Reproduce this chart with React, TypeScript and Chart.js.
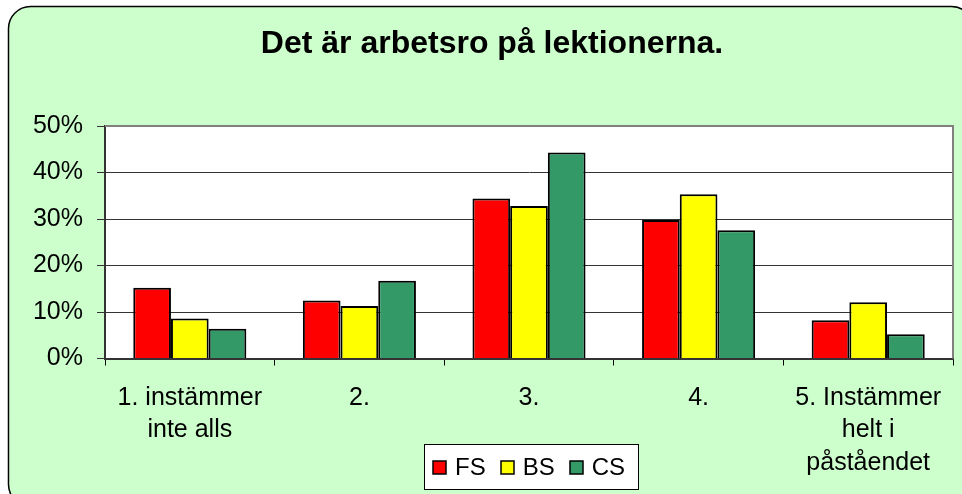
import React, { useEffect, useRef } from 'react';
import { Chart, registerables } from 'chart.js';

Chart.register(...registerables);

const chartTitle = 'Det är arbetsro på lektionerna.';
const categories: string[][] = [
  ['1. instämmer', 'inte alls'],
  ['2.'],
  ['3.'],
  ['4.'],
  ['5. Instämmer', 'helt i', 'påståendet'],
];
const seriesNames = ['FS', 'BS', 'CS'];
const seriesColors = ['#FF0000', '#FFFF00', '#339966'];
const fsValues = [15.2, 12.5, 34.4, 29.8, 8.2];
const bsValues = [8.6, 11.3, 32.8, 35.3, 12.1];
const csValues = [6.4, 16.7, 44.3, 27.6, 5.2];
const yMin = 0;
const yMax = 50;
const yStep = 10;

const FONT = "'Liberation Sans', Arial, sans-serif";

const bgPlugin = {
  id: 'bgPlugin',
  beforeDraw(chart: any) {
    const { ctx, chartArea: ca, width, height } = chart;
    ctx.save();
    ctx.fillStyle = '#ffffff';
    ctx.fillRect(0, 0, width, height);
    ctx.beginPath();
    const x = 8.5, y = 6.5, w = 965, h = 500, r = 22;
    ctx.moveTo(x + r, y);
    ctx.arcTo(x + w, y, x + w, y + h, r);
    ctx.arcTo(x + w, y + h, x, y + h, r);
    ctx.arcTo(x, y + h, x, y, r);
    ctx.arcTo(x, y, x + w, y, r);
    ctx.closePath();
    ctx.fillStyle = '#CCFFCC';
    ctx.fill();
    ctx.strokeStyle = '#000000';
    ctx.lineWidth = 1.5;
    ctx.stroke();
    ctx.fillStyle = '#ffffff';
    ctx.fillRect(ca.left, ca.top, ca.right - ca.left, ca.bottom - ca.top);
    ctx.restore();
  },
  afterDraw(chart: any) {
    const { ctx, chartArea: ca } = chart;
    ctx.save();
    // plot area frame (top & right)
    ctx.strokeStyle = '#808080';
    ctx.lineWidth = 2;
    ctx.beginPath();
    ctx.moveTo(ca.left, ca.top);
    ctx.lineTo(ca.right, ca.top);
    ctx.lineTo(ca.right, ca.bottom);
    ctx.stroke();

    // legend
    const dsets = chart.data.datasets;
    ctx.font = `24px ${FONT}`;
    const box = 13, gapBoxText = 9, gapItems = 15;
    const widths = dsets.map((d: any) => box + gapBoxText + ctx.measureText(d.label).width);
    const total = widths.reduce((a: number, b: number) => a + b, 0) + gapItems * (dsets.length - 1);
    const cx = (ca.left + ca.right) / 2;
    let xPos = cx - total / 2;
    const cy = 467.5;
    const frameL = Math.round(xPos - 9) + 0.5;
    const frameR = Math.round(xPos + total + 13) + 0.5;
    ctx.fillStyle = '#FFFFFF';
    ctx.fillRect(frameL, 444.5, frameR - frameL, 45);
    ctx.strokeStyle = '#000000';
    ctx.lineWidth = 1;
    ctx.strokeRect(frameL, 444.5, frameR - frameL, 45);
    dsets.forEach((d: any, i: number) => {
      ctx.fillStyle = d.backgroundColor;
      ctx.fillRect(Math.round(xPos), Math.round(cy - box / 2), box, box);
      ctx.strokeStyle = '#000000';
      ctx.lineWidth = 1.5;
      ctx.strokeRect(Math.round(xPos), Math.round(cy - box / 2), box, box);
      ctx.fillStyle = '#000000';
      ctx.textAlign = 'left';
      ctx.textBaseline = 'middle';
      ctx.fillText(d.label, xPos + box + gapBoxText, cy + 1);
      xPos += widths[i] + gapItems;
    });
    ctx.restore();
  },
};

export default function App() {
  const canvasRef = useRef<HTMLCanvasElement | null>(null);

  useEffect(() => {
    if (!canvasRef.current) return;
    const chart = new Chart(canvasRef.current, {
      type: 'bar',
      data: {
        labels: categories,
        datasets: [
          { label: seriesNames[0], data: fsValues, backgroundColor: seriesColors[0], borderColor: '#000000', borderWidth: 2 },
          { label: seriesNames[1], data: bsValues, backgroundColor: seriesColors[1], borderColor: '#000000', borderWidth: 2 },
          { label: seriesNames[2], data: csValues, backgroundColor: seriesColors[2], borderColor: '#000000', borderWidth: 2 },
        ],
      },
      options: {
        responsive: false,
        animation: false,
        devicePixelRatio: 1,
        datasets: { bar: { categoryPercentage: 0.6667, barPercentage: 1 } },
        layout: { padding: { left: 31, right: 9, top: 0, bottom: 0 } },
        plugins: {
          title: {
            display: true,
            text: chartTitle,
            color: '#000000',
            font: { family: FONT, size: 32, weight: 'bold', lineHeight: 1.2 },
            padding: { top: 25, bottom: 62.6 },
          },
          legend: { display: false },
          tooltip: { enabled: false },
        },
        scales: {
          x: {
            grid: { display: true, drawOnChartArea: false, drawTicks: true, tickLength: 7, color: '#000000', offset: true },
            border: { display: true, color: '#333333', width: 2 },
            ticks: {
              color: '#000000',
              font: { family: FONT, size: 25, lineHeight: 1.3 },
              padding: 16,
              maxRotation: 0,
              autoSkip: false,
            },
            afterFit: (s: any) => { s.height = 135.5; },
          },
          y: {
            min: yMin,
            max: yMax,
            ticks: {
              stepSize: yStep,
              callback: (v: any) => v + '%',
              color: '#000000',
              font: { family: FONT, size: 25 },
              padding: 14,
            },
            grid: { color: '#333333', tickLength: 8, lineWidth: 1 },
            border: { display: true, color: '#333333', width: 2 },
            afterFit: (s: any) => { s.width = 74; },
          },
        },
      },
      plugins: [bgPlugin],
    } as any);
    return () => chart.destroy();
  }, []);

  return (
    <div style={{ position: 'fixed', left: 0, top: 0, width: 962, height: 494 }}>
      <canvas ref={canvasRef} width={962} height={494} style={{ width: 962, height: 494, display: 'block' }} />
    </div>
  );
}
